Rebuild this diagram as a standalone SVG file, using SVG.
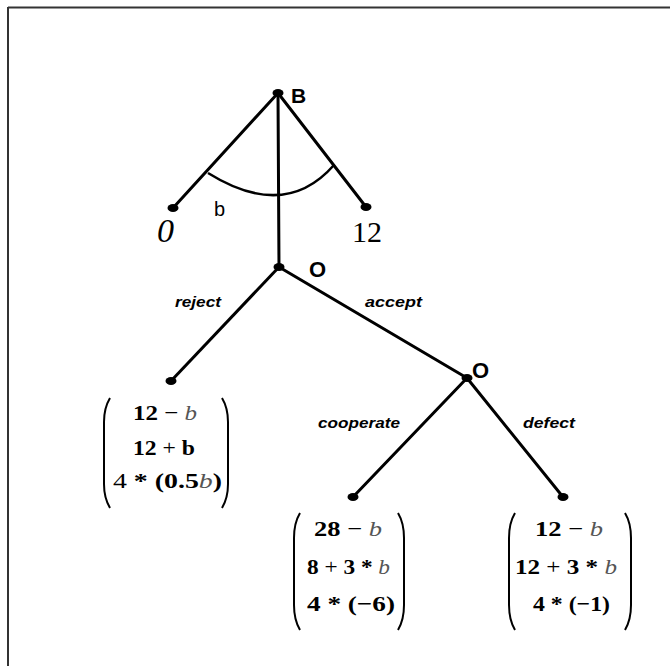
<svg xmlns="http://www.w3.org/2000/svg" width="670" height="666" viewBox="0 0 670 666">
<style>
.edge{stroke:#000;stroke-width:3;fill:none;stroke-linecap:round}
.dot{fill:#000}
.lbl{font-family:"Liberation Sans",Arial,sans-serif;font-weight:bold;fill:#000}
.plain{font-family:"Liberation Sans",Arial,sans-serif;font-weight:normal;fill:#000}
.act{font-family:"Liberation Sans",Arial,sans-serif;font-weight:bold;font-style:italic;font-size:14.5px;fill:#000}
.num{font-family:"Liberation Serif","Times New Roman",serif;fill:#000}
.m{font-family:"Liberation Serif","Times New Roman",serif;font-weight:bold;font-size:22px;fill:#000}
.op{font-weight:normal}
.v{font-style:italic;font-weight:normal;fill:#555}
.par{stroke:#000;stroke-width:2;fill:none}
</style>
<rect width="670" height="666" fill="#fff"/>
<g id="frame">
<line x1="8" y1="7.5" x2="670" y2="7.5" stroke="#333" stroke-width="2"/>
<line x1="8" y1="7" x2="8" y2="666" stroke="#333" stroke-width="2"/>
</g>
<g id="connectors">
<line class="edge" x1="278" y1="93" x2="173" y2="208"/>
<line class="edge" x1="278" y1="93" x2="366" y2="207"/>
<line class="edge" x1="278" y1="93" x2="279" y2="267"/>
<path d="M208,173 Q285,221 334,165" stroke="#000" stroke-width="2.5" fill="none"/>
<line class="edge" x1="279" y1="267" x2="171" y2="381"/>
<line class="edge" x1="279" y1="267" x2="467" y2="378"/>
<line class="edge" x1="467" y1="378" x2="353" y2="497"/>
<line class="edge" x1="467" y1="378" x2="563" y2="497"/>
</g>
<g id="node-B">
<ellipse class="dot" cx="278" cy="93" rx="5.5" ry="4"/>
<text class="lbl" x="291" y="103" font-size="21">B</text>
<text class="plain" x="214" y="216" font-size="20">b</text>
</g>
<g id="leaf-0">
<ellipse class="dot" cx="173" cy="208" rx="5.5" ry="4"/>
<text class="num" x="157" y="242" font-size="34" font-style="italic">0</text>
</g>
<g id="leaf-12">
<ellipse class="dot" cx="366" cy="207" rx="5.5" ry="4"/>
<text class="num" x="352" y="242" font-size="30">12</text>
</g>
<g id="node-O1">
<ellipse class="dot" cx="279" cy="267" rx="5.5" ry="4"/>
<text class="lbl" x="309" y="277" font-size="22">O</text>
<text class="act" x="175" y="307" textLength="46" lengthAdjust="spacingAndGlyphs">reject</text>
<text class="act" x="365" y="307" textLength="57" lengthAdjust="spacingAndGlyphs">accept</text>
</g>
<g id="leaf-reject">
<ellipse class="dot" cx="171" cy="381" rx="5.5" ry="4"/>
<path class="par" d="M110,398 Q104,408 104,422 L104,484 Q104,498 110,508"/>
<path class="par" d="M222,398 Q228,408 228,422 L228,484 Q228,498 222,508"/>
<text class="m" x="133" y="420" textLength="64" lengthAdjust="spacingAndGlyphs">12 <tspan class="op">−</tspan> <tspan class="v">b</tspan></text>
<text class="m" x="133" y="455" textLength="62" lengthAdjust="spacingAndGlyphs">12 <tspan class="op">+</tspan> b</text>
<text class="m" x="113" y="488" textLength="109" lengthAdjust="spacingAndGlyphs"><tspan class="op">4</tspan> * (0.5<tspan class="v">b</tspan>)</text>
</g>
<g id="node-O2">
<ellipse class="dot" cx="467" cy="378" rx="5.5" ry="4"/>
<text class="lbl" x="472" y="378" font-size="22">O</text>
<text class="act" x="318" y="428" textLength="82" lengthAdjust="spacingAndGlyphs">cooperate</text>
<text class="act" x="523" y="428" textLength="52" lengthAdjust="spacingAndGlyphs">defect</text>
</g>
<g id="leaf-cooperate">
<ellipse class="dot" cx="353" cy="497" rx="5.5" ry="4"/>
<path class="par" d="M300,513 Q294,523 294,538 L294,605 Q294,620 300,630"/>
<path class="par" d="M398,513 Q404,523 404,538 L404,605 Q404,620 398,630"/>
<text class="m" x="314" y="536" textLength="68" lengthAdjust="spacingAndGlyphs">28 <tspan class="op">−</tspan> <tspan class="v">b</tspan></text>
<text class="m" x="307" y="574" textLength="83" lengthAdjust="spacingAndGlyphs">8 <tspan class="op">+</tspan> 3 * <tspan class="v">b</tspan></text>
<text class="m" x="307" y="611" textLength="88" lengthAdjust="spacingAndGlyphs">4 * (−6)</text>
</g>
<g id="leaf-defect">
<ellipse class="dot" cx="563" cy="497" rx="5.5" ry="4"/>
<path class="par" d="M515,513 Q509,523 509,538 L509,605 Q509,620 515,630"/>
<path class="par" d="M625,513 Q631,523 631,538 L631,605 Q631,620 625,630"/>
<text class="m" x="535" y="536" textLength="68" lengthAdjust="spacingAndGlyphs">12 <tspan class="op">−</tspan> <tspan class="v">b</tspan></text>
<text class="m" x="515" y="574" textLength="102" lengthAdjust="spacingAndGlyphs">12 <tspan class="op">+</tspan> 3 * <tspan class="v">b</tspan></text>
<text class="m" x="533" y="611" textLength="77" lengthAdjust="spacingAndGlyphs">4 * (−1)</text>
</g>
</svg>
